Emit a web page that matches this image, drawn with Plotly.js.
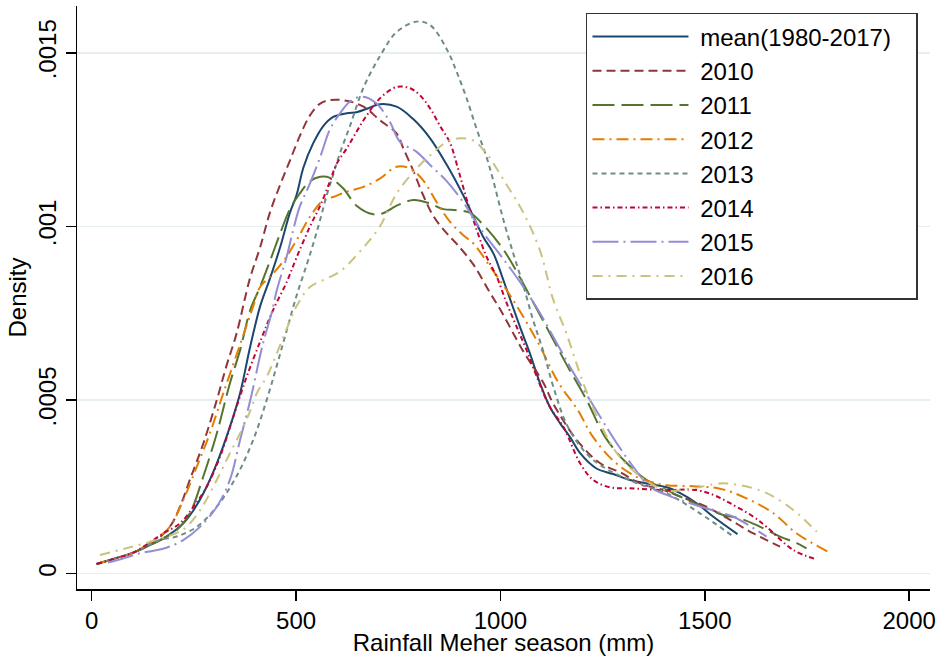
<!DOCTYPE html>
<html>
<head>
<meta charset="utf-8">
<script src="https://cdn.plot.ly/plotly-3.0.1.min.js"></script>
<style>html,body{margin:0;padding:0;background:#fff;}#chart{width:943px;height:656px;}</style>
</head>
<body>
<div id="chart"></div>
<script>
// Rainfall (mm) and kernel density values
const meanX = [12, 60, 100, 143, 183, 224, 249, 273, 306, 338, 363, 387, 412, 436, 461, 485, 501, 518, 542, 567, 590, 624, 650, 675, 705, 746, 786, 828, 869, 909, 958, 983, 1007, 1048, 1072, 1097, 1121, 1146, 1170, 1195, 1235, 1276, 1317, 1358, 1407, 1440, 1480, 1521, 1580];
const meanY = [0.000028, 0.000045, 0.00006, 0.000083, 0.000107, 0.000145, 0.000183, 0.000231, 0.000318, 0.000423, 0.00052, 0.00065, 0.00077, 0.00085, 0.00094, 0.00104, 0.00109, 0.00117, 0.00124, 0.00129, 0.001315, 0.001326, 0.00133, 0.00134, 0.001352, 0.001345, 0.00131, 0.001254, 0.001177, 0.00109, 0.00097, 0.000922, 0.000846, 0.00071, 0.000635, 0.000548, 0.00048, 0.000433, 0.000394, 0.000347, 0.000303, 0.000287, 0.00027, 0.00026, 0.000249, 0.000232, 0.000203, 0.000164, 0.000114];

const y2010X = [12, 60, 100, 150, 191, 216, 240, 273, 306, 330, 354, 387, 412, 436, 461, 485, 509, 534, 559, 583, 624, 665, 705, 746, 762, 787, 811, 836, 869, 893, 934, 975, 1003, 1056, 1105, 1129, 1187, 1244, 1293, 1342, 1399, 1440, 1504, 1562, 1619, 1684];
const y2010Y = [0.000028, 0.000045, 0.00006, 0.00009, 0.000135, 0.000193, 0.00027, 0.000375, 0.0005, 0.0006, 0.00069, 0.00085, 0.00094, 0.00104, 0.00112, 0.00119, 0.00126, 0.00132, 0.001354, 0.001364, 0.001362, 0.001345, 0.001306, 0.001268, 0.001226, 0.00116, 0.00109, 0.00103, 0.00098, 0.00095, 0.00089, 0.000808, 0.000754, 0.00064, 0.00055, 0.00049, 0.000385, 0.000318, 0.000292, 0.00026, 0.000241, 0.000222, 0.000193, 0.000155, 0.000116, 0.000078];

const y2011X = [12, 60, 100, 167, 208, 240, 273, 306, 338, 363, 388, 412, 436, 461, 485, 509, 534, 559, 583, 615, 648, 689, 713, 746, 787, 828, 860, 893, 925, 954, 1007, 1050, 1090, 1131, 1163, 1211, 1256, 1305, 1358, 1399, 1440, 1496, 1545, 1586, 1627, 1684, 1725, 1749];
const y2011Y = [0.000028, 0.000045, 0.00006, 0.000097, 0.000126, 0.000174, 0.00028, 0.000404, 0.000548, 0.000644, 0.00076, 0.000826, 0.0009, 0.00098, 0.00105, 0.001095, 0.00113, 0.001143, 0.00114, 0.00111, 0.00106, 0.001035, 0.001038, 0.00106, 0.001076, 0.001066, 0.00105, 0.001047, 0.00104, 0.00101, 0.000934, 0.000848, 0.00076, 0.00067, 0.0006, 0.0005, 0.000394, 0.000323, 0.00027, 0.000246, 0.000222, 0.000193, 0.000169, 0.000159, 0.00014, 0.000107, 0.000088, 0.000073];

const y2012X = [12, 60, 100, 159, 191, 224, 257, 289, 322, 363, 395, 412, 436, 469, 501, 534, 567, 591, 624, 665, 705, 746, 779, 811, 844, 877, 909, 934, 975, 1015, 1056, 1097, 1142, 1190, 1223, 1272, 1325, 1366, 1407, 1472, 1537, 1602, 1668, 1725, 1802];
const y2012Y = [0.000028, 0.000045, 0.00006, 0.000102, 0.000135, 0.000212, 0.000308, 0.000404, 0.00052, 0.00066, 0.00077, 0.000826, 0.000855, 0.0009, 0.00096, 0.001028, 0.001076, 0.001085, 0.0011, 0.001114, 0.001138, 0.001172, 0.001167, 0.001133, 0.00107, 0.001013, 0.000975, 0.000951, 0.000884, 0.000817, 0.00074, 0.000654, 0.00055, 0.00047, 0.0004, 0.00033, 0.000284, 0.000265, 0.000255, 0.000252, 0.000245, 0.000217, 0.000174, 0.000116, 0.000063];

const y2013X = [12, 60, 100, 167, 208, 257, 306, 354, 395, 428, 453, 477, 501, 526, 542, 559, 575, 591, 607, 632, 665, 705, 746, 795, 828, 869, 893, 917, 942, 966, 983, 1007, 1032, 1056, 1080, 1105, 1129, 1162, 1203, 1244, 1325, 1407, 1488, 1570];
const y2013Y = [0.000028, 0.000045, 0.00006, 0.000097, 0.000107, 0.000135, 0.000193, 0.00028, 0.000385, 0.0005, 0.0006, 0.0007, 0.0008, 0.00089, 0.00095, 0.00102, 0.00109, 0.00115, 0.00121, 0.00129, 0.0014, 0.00149, 0.00156, 0.00159, 0.00158, 0.00151, 0.001445, 0.00137, 0.00128, 0.0012, 0.00113, 0.00102, 0.00092, 0.00083, 0.00073, 0.00064, 0.00054, 0.00043, 0.000356, 0.000313, 0.000265, 0.000231, 0.000174, 0.000107];

const y2014X = [12, 60, 100, 175, 216, 249, 281, 314, 346, 379, 416, 444, 477, 501, 534, 559, 583, 599, 624, 648, 673, 705, 746, 779, 803, 828, 852, 877, 893, 917, 942, 966, 991, 1015, 1040, 1064, 1089, 1121, 1154, 1195, 1227, 1268, 1317, 1399, 1480, 1521, 1562, 1619, 1651, 1717, 1774];
const y2014Y = [0.000028, 0.000045, 0.00006, 0.000116, 0.000145, 0.000193, 0.00025, 0.000337, 0.00045, 0.000567, 0.00068, 0.00076, 0.00084, 0.00091, 0.001, 0.00106, 0.00113, 0.00118, 0.001225, 0.001273, 0.00132, 0.001369, 0.001402, 0.001398, 0.001378, 0.00134, 0.00129, 0.00124, 0.00118, 0.00108, 0.00099, 0.000913, 0.000855, 0.00078, 0.00071, 0.000644, 0.000567, 0.00048, 0.000423, 0.000318, 0.00027, 0.000249, 0.000246, 0.000241, 0.000241, 0.000227, 0.000203, 0.000164, 0.000135, 0.000068, 0.000041];

const y2015X = [40, 80, 118, 151, 183, 224, 265, 306, 338, 363, 388, 419, 440, 453, 477, 493, 509, 534, 559, 583, 607, 632, 663, 697, 730, 754, 795, 828, 869, 909, 950, 1015, 1056, 1097, 1138, 1170, 1244, 1285, 1325, 1366, 1407, 1464, 1529, 1570, 1651];
const y2015Y = [0.000032, 0.000045, 0.000059, 0.000066, 0.000075, 0.000097, 0.000135, 0.000193, 0.00027, 0.000385, 0.0005, 0.000663, 0.00075, 0.000817, 0.000913, 0.00099, 0.001057, 0.001124, 0.0012, 0.00128, 0.001325, 0.00136, 0.001374, 0.001354, 0.0013, 0.001244, 0.001215, 0.001177, 0.00113, 0.00107, 0.000995, 0.000894, 0.000826, 0.00075, 0.000664, 0.000596, 0.000452, 0.000375, 0.000308, 0.00025, 0.000227, 0.000203, 0.000179, 0.000164, 0.000107];

const y2016X = [20, 80, 143, 208, 232, 265, 289, 314, 338, 363, 388, 404, 428, 453, 477, 501, 534, 567, 607, 665, 705, 746, 795, 828, 869, 901, 934, 966, 1015, 1056, 1097, 1129, 1162, 1203, 1244, 1285, 1342, 1407, 1472, 1537, 1586, 1635, 1668, 1717, 1774];
const y2016Y = [0.000054, 0.000072, 0.000092, 0.000118, 0.000135, 0.000183, 0.000231, 0.000289, 0.000347, 0.000404, 0.00047, 0.00052, 0.000567, 0.000635, 0.000705, 0.00077, 0.000826, 0.000846, 0.00087, 0.00094, 0.001, 0.001095, 0.001167, 0.001205, 0.001244, 0.001254, 0.001247, 0.00121, 0.00112, 0.00104, 0.00093, 0.00079, 0.00069, 0.000548, 0.000433, 0.000347, 0.00028, 0.00024, 0.000246, 0.00026, 0.000255, 0.00024, 0.000222, 0.000183, 0.000121];

const seriesNames = ['mean(1980-2017)', '2010', '2011', '2012', '2013', '2014', '2015', '2016'];
const xTickVals = [0, 500, 1000, 1500, 2000];
const yTickVals = [0, 0.0005, 0.001, 0.0015];
const yTickText = ['0', '.0005', '.001', '.0015'];

const xs = [meanX, y2010X, y2011X, y2012X, y2013X, y2014X, y2015X, y2016X];
const ys = [meanY, y2010Y, y2011Y, y2012Y, y2013Y, y2014Y, y2015Y, y2016Y];
const colors = ['#1a476f', '#90353b', '#55752f', '#e37e00', '#6e8e84', '#c10534', '#938dd2', '#cac27e'];
const dashes = ['solid', '9px,5px', '22px,7px', '12px,5px,2px,5px', '5px,4px', '5px,3px,1.5px,3px', '26px,5px,2px,5px', '10px,6px,2px,6px'];

const FONT = 'Liberation Sans, Arial, sans-serif';
const NB = '\u00a0';
const traces = seriesNames.map((n, i) => ({
  type: 'scatter', mode: 'lines',
  name: NB + n + (i === 0 ? NB + NB + NB : ''),
  x: xs[i], y: ys[i],
  line: {color: colors[i], width: 2, dash: dashes[i], shape: 'spline', smoothing: 1}
}));

const layout = {
  width: 943, height: 656,
  margin: {l: 77, r: 13, t: 6, b: 67},
  paper_bgcolor: '#ffffff', plot_bgcolor: '#ffffff',
  font: {family: FONT, size: 24, color: '#000'},
  showlegend: true,
  legend: {
    x: 0.5967, y: 0.988, xanchor: 'left', yanchor: 'top',
    bgcolor: '#ffffff', bordercolor: '#333333', borderwidth: 1.5,
    font: {family: FONT, size: 24, color: '#000'},
    itemwidth: 96, traceorder: 'normal'
  },
  xaxis: {
    range: [-36, 2051], tickvals: xTickVals, ticktext: xTickVals.map(String),
    ticks: 'outside', ticklen: 10, tickwidth: 1.5, tickcolor: '#000',
    showline: true, linecolor: '#000', linewidth: 1.5,
    showgrid: false, zeroline: false,
    tickfont: {family: FONT, size: 24},
    title: {text: 'Rainfall Meher season (mm)', font: {family: FONT, size: 24}, standoff: 3}
  },
  yaxis: {
    range: [-0.000044, 0.001635], tickvals: yTickVals, ticktext: yTickText,
    tickangle: -90,
    ticks: 'outside', ticklen: 10, tickwidth: 1.5, tickcolor: '#000',
    showline: true, linecolor: '#000', linewidth: 1.5,
    showgrid: true, gridcolor: '#e6eef1', gridwidth: 1.5, zeroline: false,
    tickfont: {family: FONT, size: 24},
    title: {text: 'Density', font: {family: FONT, size: 24}, standoff: 0}
  }
};

Plotly.newPlot('chart', traces, layout, {displayModeBar: false, staticPlot: true});
</script>
</body>
</html>
